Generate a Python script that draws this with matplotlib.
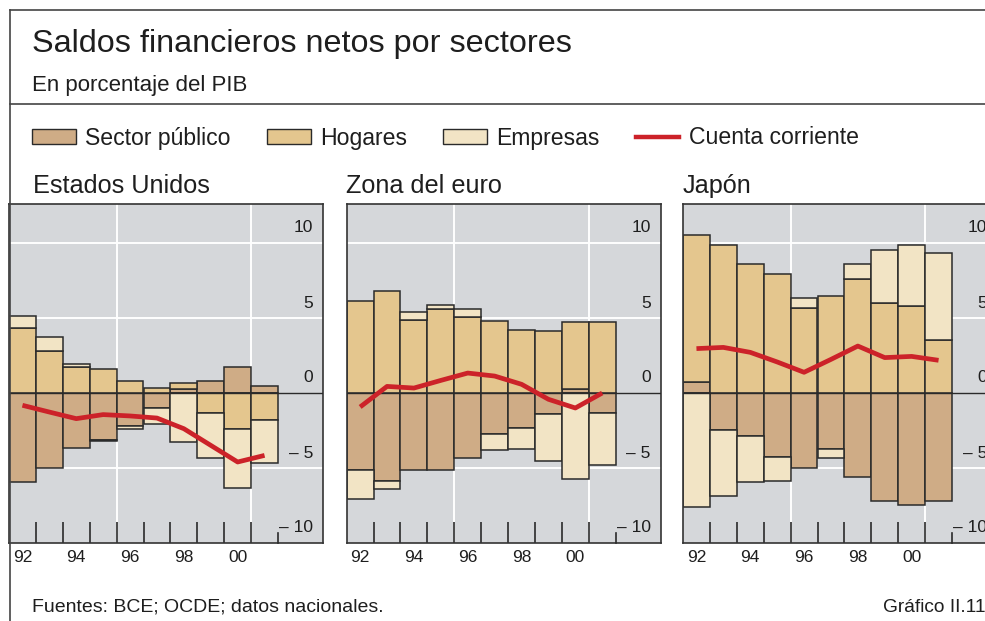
import numpy as np
import matplotlib
matplotlib.use("Agg")
import matplotlib.pyplot as plt
from matplotlib.patches import Patch
from matplotlib.lines import Line2D
from matplotlib.transforms import blended_transform_factory

plt.rcParams['font.family'] = ['Liberation Sans', 'DejaVu Sans']

# --- Datos (% del PIB) ---
anios = list(range(1992, 2002))
etiquetas_x = ["92", "94", "96", "98", "00"]
paneles = ["Estados Unidos", "Zona del euro", "Japón"]

eeuu_publico = [-5.93, -5.0, -3.69, -3.1, -2.18, -0.97, 0.25, 0.82, 1.74, 0.5]
eeuu_hogares = [4.36, 2.8, 1.73, 1.62, 0.82, 0.33, 0.45, -1.33, -2.4, -1.82]
eeuu_empresas = [0.75, 0.93, 0.2, -0.1, -0.22, -1.08, -3.27, -3.02, -3.91, -2.84]
eeuu_cuenta = [-0.82, -1.27, -1.71, -1.44, -1.53, -1.67, -2.38, -3.49, -4.6, -4.16]

euro_publico = [-5.16, -5.87, -5.16, -5.11, -4.36, -2.71, -2.36, -1.38, 0.25, -1.31]
euro_hogares = [6.11, 6.8, 4.89, 5.6, 5.07, 4.8, 4.2, 4.16, 4.49, 4.71]
euro_empresas = [-1.93, -0.56, 0.53, 0.27, 0.56, -1.07, -1.36, -3.16, -5.73, -3.47]
euro_cuenta = [-0.93, 0.44, 0.33, 0.84, 1.33, 1.13, 0.58, -0.42, -1.0, 0.0]

japon_publico = [0.73, -2.47, -2.89, -4.27, -5.0, -3.76, -5.58, -7.2, -7.49, -7.18]
japon_hogares = [9.8, 9.89, 8.62, 7.96, 5.67, 6.44, 7.62, 6.02, 5.8, 3.56]
japon_empresas = [-7.6, -4.42, -3.07, -1.62, 0.67, -0.56, 1.0, 3.49, 4.04, 5.8]
japon_cuenta = [2.96, 3.04, 2.71, 2.07, 1.38, 2.24, 3.13, 2.36, 2.44, 2.18]

y_marcas = [10, 5, 0, -5, -10]
y_etiquetas = ["10", "5", "0", "\u2013 5", "\u2013 10"]

datos = [
    (eeuu_publico, eeuu_hogares, eeuu_empresas, eeuu_cuenta),
    (euro_publico, euro_hogares, euro_empresas, euro_cuenta),
    (japon_publico, japon_hogares, japon_empresas, japon_cuenta),
]

# --- Estilo ---
C_PUB = '#CFAC86'
C_HOG = '#E4C68E'
C_EMP = '#F2E4C5'
C_ROJO = '#CC2229'
C_FONDO = '#D5D7DA'
C_BORDE = '#2A2A2A'
C_TEXTO = '#1E1E1E'

W, H = 985, 621
fig = plt.figure(figsize=(W / 100, H / 100), dpi=100)


def fx(px):
    return px / W


def fy(py):
    return 1 - py / H


# marco exterior
for xs, ys in [((10, 985), (10, 10)), ((10, 10), (10, 621)), ((10, 985), (104, 104))]:
    fig.add_artist(Line2D([fx(x) for x in xs], [fy(y) for y in ys], color='#444444', lw=1.2))

fig.text(fx(32), fy(44), "Saldos financieros netos por sectores", fontsize=23.3,
         color=C_TEXTO, va='center', ha='left')
fig.text(fx(32), fy(86), "En porcentaje del PIB", fontsize=16, color=C_TEXTO, va='center', ha='left')

# leyenda
handles = [
    Patch(facecolor=C_PUB, edgecolor=C_BORDE, lw=1.0, label="Sector público"),
    Patch(facecolor=C_HOG, edgecolor=C_BORDE, lw=1.0, label="Hogares"),
    Patch(facecolor=C_EMP, edgecolor=C_BORDE, lw=1.0, label="Empresas"),
    Line2D([], [], color=C_ROJO, lw=3.2, label="Cuenta corriente"),
]
leg = fig.legend(handles=handles, loc='center left', bbox_to_anchor=(fx(32), fy(138)), ncol=4,
                 frameon=False, fontsize=16.6, handlelength=1.9, handleheight=0.6,
                 handletextpad=0.42, columnspacing=1.55, borderaxespad=0, borderpad=0)
for t in leg.get_texts():
    t.set_color(C_TEXTO)

# paneles
ax_izq = [9, 346.7, 683]
ax_ancho = 314
ax_sup, ax_inf = 204, 543
tit_x = [33, 346, 683]

for i, (nombre, (pub, hog, emp, cta)) in enumerate(zip(paneles, datos)):
    ax = fig.add_axes([fx(ax_izq[i]), fy(ax_inf), fx(ax_ancho), (ax_inf - ax_sup) / H])
    ax.set_facecolor(C_FONDO)
    ax.set_xlim(1991.5, 1991.5 + ax_ancho / 26.9)
    ax.set_ylim(-10, 12.6)

    # rejilla
    ax.set_yticks([-5, 5, 10])
    ax.set_yticklabels([])
    ax.tick_params(axis='y', length=0)
    ax.grid(axis='y', color='white', lw=1.4, zorder=0)
    for xv in [1995.5, 2000.5]:
        ax.axvline(xv, color='white', lw=1.4, zorder=0)
    ax.set_axisbelow(True)

    # barras apiladas (positivos hacia arriba, negativos hacia abajo)
    pos = np.zeros(len(anios))
    neg = np.zeros(len(anios))
    for serie, color in [(pub, C_PUB), (hog, C_HOG), (emp, C_EMP)]:
        v = np.array(serie)
        base = np.where(v >= 0, pos, neg)
        ax.bar(anios, v, bottom=base, width=1.0, color=color, edgecolor=C_BORDE,
               linewidth=1.1, zorder=2)
        pos = pos + np.clip(v, 0, None)
        neg = neg + np.clip(v, None, 0)

    ax.axhline(0, color=C_BORDE, lw=1.0, zorder=3)
    ax.plot(anios, cta, color=C_ROJO, lw=3.4, solid_capstyle='butt', zorder=4)

    # etiquetas del eje y dentro del panel
    trans = blended_transform_factory(ax.transAxes, ax.transData)
    for v, txt in zip(y_marcas, y_etiquetas):
        ax.text(0.968, v + 1.0, txt, transform=trans, ha='right', va='center',
                fontsize=12.5, color=C_TEXTO, zorder=5)

    # eje x
    ax.set_xticks(anios[::2])
    ax.set_xticklabels(etiquetas_x, fontsize=12.5, color=C_TEXTO)
    ax.tick_params(axis='x', which='major', length=0, pad=5)
    ax.set_xticks([a + 0.5 for a in anios[:-1]], minor=True)
    ax.tick_params(axis='x', which='minor', direction='in', length=15, width=1.2,
                   color=C_BORDE)
    ax.plot([anios[-1] + 0.5] * 2, [0, 0.03], transform=ax.get_xaxis_transform(),
            color=C_BORDE, lw=1.2, zorder=5, clip_on=False)

    for s in ax.spines.values():
        s.set_color('#333333')
        s.set_linewidth(1.2)

    fig.text(fx(tit_x[i]), fy(186), nombre, fontsize=18.2, color=C_TEXTO, va='center', ha='left')

fig.text(fx(32), fy(607), "Fuentes: BCE; OCDE; datos nacionales.", fontsize=14,
         color=C_TEXTO, va='center', ha='left')
fig.text(fx(883), fy(607), "Gráfico II.11", fontsize=13.8, color=C_TEXTO, va='center', ha='left')

fig.savefig('out.png', dpi=100)
